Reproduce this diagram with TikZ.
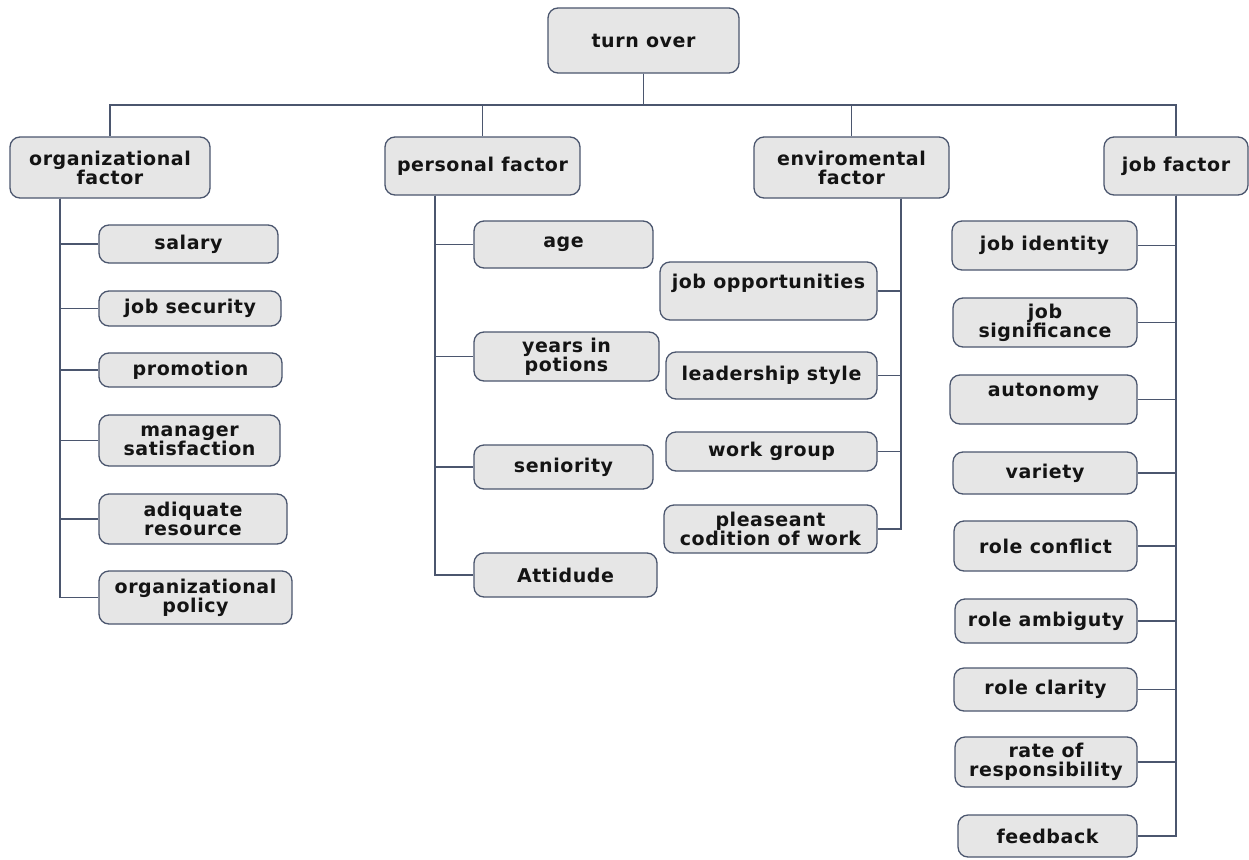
\documentclass[tikz,border=0pt]{standalone}
\usepackage{fontspec}
\usepackage{tikz}
\newfontfamily\boxfont{DejaVu Sans}[LetterSpace=3]
\definecolor{linecol}{HTML}{4B566E}
\definecolor{boxfill}{HTML}{E6E6E6}
\definecolor{txtcol}{HTML}{141414}

\begin{document}
\begin{tikzpicture}[x=1pt, y=-1pt,
    box/.style={draw=linecol, fill=boxfill, line width=1.3pt, rounded corners=10pt,
        align=center, inner sep=0pt, text=txtcol,
        font=\boxfont\bfseries\fontsize{19}{19}\selectfont},
    link/.style={draw=linecol, line width=1.4pt}]
    \useasboundingbox (0,0) rectangle (1249,859);

    % Root
    \node[box, minimum width=191, minimum height=65] (root) at (643.5,40.5) {turn over};

    % Four factors
    \node[box, minimum width=200, minimum height=61] (org) at (110,167.5) {organizational\\factor};
    \node[box, minimum width=195, minimum height=58] (pers) at (482.5,166) {personal factor};
    \node[box, minimum width=195, minimum height=61] (env) at (851.5,167.5) {enviromental\\factor};
    \node[box, minimum width=144, minimum height=58] (job) at (1176,166) {job factor};

    % Organizational factor
    \node[box, minimum width=179, minimum height=38] (salary) at (188.5,244) {salary};
    \node[box, minimum width=182, minimum height=35] (jobsec) at (190,308.5) {job security};
    \node[box, minimum width=183, minimum height=34] (promo) at (190.5,370) {promotion};
    \node[box, minimum width=181, minimum height=51] (manager) at (189.5,440.5) {manager\\satisfaction};
    \node[box, minimum width=188, minimum height=50] (adiq) at (193,519) {adiquate\\resource};
    \node[box, minimum width=193, minimum height=53] (orgpol) at (195.5,597.5) {organizational\\policy};

    % Personal factor
    \node[box, minimum width=179, minimum height=47] (age) at (563.5,244.5) {age};
    \node[box, minimum width=185, minimum height=49] (years) at (566.5,356.5) {years in\\potions};
    \node[box, minimum width=179, minimum height=44] (senior) at (563.5,467) {seniority};
    \node[box, minimum width=183, minimum height=44] (attid) at (565.5,575) {Attidude};

    % Enviromental factor
    \node[box, minimum width=217, minimum height=58] (jobopp) at (768.5,291) {job opportunities\\~};
    \node[box, minimum width=211, minimum height=47] (leader) at (771.5,375.5) {leadership style};
    \node[box, minimum width=211, minimum height=39] (workgrp) at (771.5,451.5) {work group};
    \node[box, minimum width=213, minimum height=48] (pleas) at (770.5,529) {pleaseant\\codition of work};

    % Job factor
    \node[box, minimum width=185, minimum height=49] (jobid) at (1044.5,245.5) {job identity};
    \node[box, minimum width=184, minimum height=49] (jobsig) at (1045,322.5) {job\\significance};
    \node[box, minimum width=187, minimum height=49] (auton) at (1043.5,399.5) {autonomy\\~};
    \node[box, minimum width=184, minimum height=42] (variety) at (1045,473) {variety};
    \node[box, minimum width=183, minimum height=50] (rconf) at (1045.5,546) {role conflict};
    \node[box, minimum width=182, minimum height=44] (ramb) at (1046,621) {role ambiguty};
    \node[box, minimum width=183, minimum height=43] (rclar) at (1045.5,689.5) {role clarity};
    \node[box, minimum width=182, minimum height=50] (rate) at (1046,762) {rate of\\responsibility};
    \node[box, minimum width=179, minimum height=42] (feedb) at (1047.5,836) {feedback};

    % Trunk positions
    \coordinate (bus) at (0,105);
    \coordinate (orgx) at (60,0);
    \coordinate (persx) at (435,0);
    \coordinate (envx) at (901,0);

    % Root to factors
    \foreach \f in {org,pers,env,job}
        \draw[link] (root.south) -- (root.south |- bus) -| (\f.north);

    % Factors to their items
    \foreach \c in {salary,jobsec,promo,manager,adiq,orgpol}
        \draw[link] (org.south -| orgx) |- (\c.west);
    \foreach \c in {age,years,senior,attid}
        \draw[link] (pers.south -| persx) |- (\c.west);
    \foreach \c in {jobopp,leader,workgrp,pleas}
        \draw[link] (env.south -| envx) |- (\c.east);
    \foreach \c in {jobid,jobsig,auton,variety,rconf,ramb,rclar,rate,feedb}
        \draw[link] (job.south) |- (\c.east);
\end{tikzpicture}
\end{document}
